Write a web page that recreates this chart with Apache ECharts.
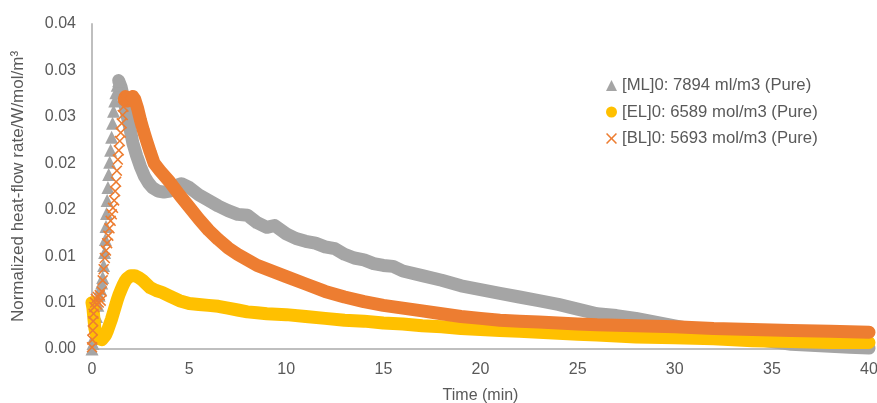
<!DOCTYPE html>
<html>
<head>
<meta charset="utf-8">
<script src="https://cdn.jsdelivr.net/npm/echarts@6/dist/echarts.min.js"></script>
<style>
html,body{margin:0;padding:0;background:#fff;}
#chart{width:877px;height:403px;}
</style>
</head>
<body>
<div id="chart"></div>
<script>
// ---------- data ----------
var seriesNames = ['[ML]0: 7894 ml/m3 (Pure)', '[EL]0: 6589 mol/m3 (Pure)', '[BL]0: 5693 mol/m3 (Pure)'];
var xTickLabels = ['0', '5', '10', '15', '20', '25', '30', '35', '40'];
var yTickLabels = ['0.00', '0.01', '0.01', '0.02', '0.02', '0.03', '0.03', '0.04'];

// ML (grey triangles) - rising part
var mlRiseTime  = [0, 0.05, 0.1, 0.17, 0.23, 0.3, 0.37, 0.43, 0.5, 0.55, 0.6, 0.65, 0.69, 0.72, 0.75, 0.78, 0.82, 0.86, 0.91, 0.96, 1.01, 1.06, 1.11, 1.17, 1.23, 1.3, 1.37];
var mlRiseValue = [0, 0.0006, 0.0013, 0.0024, 0.0035, 0.0047, 0.0058, 0.0065, 0.0071, 0.0077, 0.0090, 0.0104, 0.0118, 0.0132, 0.0146, 0.0160, 0.0174, 0.0188, 0.0201, 0.0214, 0.0228, 0.0243, 0.0256, 0.0267, 0.0276, 0.0284, 0.0289];
// ML - decaying part
var mlDecayTime  = [1.37, 1.5, 1.65, 1.8, 1.95, 2.1, 2.3, 2.5, 2.7, 2.9, 3.1, 3.4, 3.7, 4.0, 4.3, 4.6, 5.0, 5.5, 6.0, 6.5, 7.0, 7.5, 8.0, 8.5, 9.0, 9.4, 10.0, 10.5, 11.0, 11.5, 12.0, 12.5, 13.0, 13.5, 14.0, 14.5, 15.0, 15.5, 16.0, 17.0, 18.0, 19.0, 20.0, 21.0, 22.0, 23.0, 24.0, 25.0, 26.0, 27.0, 28.0, 29.0, 30.0, 31.0, 32.0, 33.0, 34.0, 35.0, 36.0, 37.0, 38.0, 39.0, 40.0];
var mlDecayValue = [0.0289, 0.0282, 0.0268, 0.0252, 0.0238, 0.0222, 0.0208, 0.0196, 0.0186, 0.0179, 0.0174, 0.0170, 0.0169, 0.0170, 0.0176, 0.0178, 0.0174, 0.0166, 0.0160, 0.0154, 0.0149, 0.0145, 0.0144, 0.0136, 0.0131, 0.0133, 0.0124, 0.0119, 0.0116, 0.0114, 0.0110, 0.0108, 0.0102, 0.0098, 0.0096, 0.0092, 0.0090, 0.0089, 0.0084, 0.0079, 0.0074, 0.0068, 0.0064, 0.0060, 0.0056, 0.0052, 0.0048, 0.0043, 0.0038, 0.0036, 0.0033, 0.0029, 0.0025, 0.0021, 0.0017, 0.0014, 0.0011, 0.0008, 0.0005, 0.0004, 0.0003, 0.0002, 0.0001];

// EL (yellow circles)
var elTime  = [0, 0.05, 0.1, 0.15, 0.22, 0.3, 0.4, 0.5, 0.6, 0.7, 0.8, 0.9, 1.0, 1.1, 1.2, 1.3, 1.4, 1.5, 1.6, 1.7, 1.8, 1.9, 2.0, 2.1, 2.2, 2.4, 2.6, 2.8, 3.0, 3.3, 3.6, 4.0, 4.5, 5.0, 5.5, 6.0, 6.5, 7.0, 7.5, 8.0, 8.5, 9.0, 10.0, 11.0, 12.0, 13.0, 14.0, 15.0, 16.0, 17.0, 18.0, 19.0, 20.0, 21.0, 22.0, 23.0, 24.0, 25.0, 26.0, 27.0, 28.0, 30.0, 32.0, 34.0, 36.0, 38.0, 40.0];
var elValue = [0.0050, 0.0044, 0.0032, 0.0022, 0.0016, 0.0012, 0.0010, 0.0010, 0.0012, 0.0015, 0.0020, 0.0026, 0.0032, 0.0039, 0.0046, 0.0053, 0.0059, 0.0064, 0.0069, 0.0073, 0.0076, 0.0078, 0.0079, 0.0080, 0.0079, 0.0077, 0.0074, 0.0070, 0.0066, 0.0063, 0.0061, 0.0057, 0.0052, 0.0049, 0.0048, 0.0047, 0.0046, 0.0044, 0.0042, 0.0040, 0.0039, 0.0038, 0.0037, 0.0035, 0.0033, 0.0031, 0.0030, 0.0028, 0.0027, 0.0025, 0.0024, 0.0022, 0.0021, 0.0020, 0.0019, 0.0018, 0.0017, 0.0016, 0.0015, 0.0014, 0.0013, 0.0012, 0.0011, 0.0009, 0.0008, 0.0007, 0.0007];

// BL (orange crosses) - rising part
var blRiseTime  = [0, 0.02, 0.04, 0.06, 0.08, 0.12, 0.16, 0.2, 0.25, 0.3, 0.35, 0.4, 0.45, 0.5, 0.55, 0.6, 0.66, 0.72, 0.78, 0.84, 0.9, 0.96, 1.02, 1.08, 1.14, 1.19, 1.24, 1.28, 1.33, 1.38, 1.43, 1.48, 1.53, 1.58, 1.62, 1.66];
var blRiseValue = [0.0002, 0.0010, 0.0020, 0.0030, 0.0038, 0.0045, 0.0050, 0.0054, 0.0048, 0.0056, 0.0050, 0.0058, 0.0052, 0.0062, 0.0074, 0.0086, 0.0098, 0.0106, 0.0114, 0.0122, 0.0130, 0.0138, 0.0145, 0.0152, 0.0160, 0.0170, 0.0180, 0.0192, 0.0204, 0.0214, 0.0224, 0.0233, 0.0243, 0.0252, 0.0261, 0.0269];
// BL - decaying part
var blDecayTime  = [1.66, 1.72, 1.8, 1.9, 2.0, 2.1, 2.2, 2.35, 2.5, 2.65, 2.8, 3.0, 3.2, 3.5, 4.0, 4.5, 5.0, 5.5, 6.0, 6.5, 7.0, 7.5, 8.0, 8.5, 9.0, 9.5, 10.0, 11.0, 12.0, 13.0, 14.0, 15.0, 16.0, 17.0, 18.0, 19.0, 20.0, 21.0, 22.0, 23.0, 24.0, 25.0, 26.0, 28.0, 30.0, 32.0, 34.0, 36.0, 38.0, 40.0];
var blDecayValue = [0.0269, 0.0272, 0.0267, 0.0265, 0.0269, 0.0272, 0.0269, 0.0259, 0.0246, 0.0235, 0.0225, 0.0212, 0.0200, 0.0192, 0.0180, 0.0166, 0.0153, 0.0140, 0.0128, 0.0118, 0.0109, 0.0102, 0.0096, 0.0090, 0.0086, 0.0082, 0.0078, 0.0070, 0.0062, 0.0056, 0.0051, 0.0047, 0.0044, 0.0041, 0.0038, 0.0035, 0.0033, 0.0031, 0.0030, 0.0029, 0.0028, 0.0027, 0.0026, 0.0025, 0.0024, 0.0022, 0.0021, 0.0020, 0.0019, 0.0018];

// ---------- helpers ----------
function pairs(t, v) { return t.map(function (x, i) { return [x, v[i]]; }); }

var C_ML = '#A5A5A5', C_EL = '#FFC000', C_BL = '#ED7D31';
var FONT = '"Liberation Sans", Arial, sans-serif';
var TXT = '#595959';
var CROSS = 'path://M1,0 L5,4 L9,0 L10,1 L6,5 L10,9 L9,10 L5,6 L1,10 L0,9 L4,5 L0,1 Z';
var BAND = 13;

var chart = echarts.init(document.getElementById('chart'), null, { renderer: 'canvas' });
chart.setOption({
  animation: false,
  backgroundColor: '#ffffff',
  grid: { left: 92, right: 8, top: 24, bottom: 54, containLabel: false, outerBoundsMode: 'none' },
  legend: {
    orient: 'vertical',
    left: 601,
    top: 72,
    itemWidth: 11,
    itemHeight: 11,
    itemGap: 9.5,
    textStyle: { color: TXT, fontSize: 16.7, lineHeight: 17, fontFamily: FONT },
    data: [
      { name: seriesNames[0], icon: 'triangle' },
      { name: seriesNames[1], icon: 'circle' },
      { name: seriesNames[2], icon: CROSS }
    ]
  },
  xAxis: {
    type: 'value',
    min: 0, max: 40, interval: 5,
    name: 'Time (min)',
    nameLocation: 'middle',
    nameGap: 39,
    nameTextStyle: { color: TXT, fontSize: 16, fontFamily: FONT },
    axisLine: { show: true, onZero: false, lineStyle: { color: '#BFBFBF', width: 2 } },
    axisTick: { show: false },
    splitLine: { show: false },
    axisLabel: {
      color: TXT, fontSize: 16, fontFamily: FONT, margin: 13,
      formatter: function (v, i) { return xTickLabels[i]; }
    }
  },
  yAxis: {
    type: 'value',
    min: 0, max: 0.035, interval: 0.005,
    name: 'Normalized heat-flow rate/W/mol/m³',
    nameLocation: 'middle',
    nameGap: 65,
    nameTextStyle: { color: TXT, fontSize: 17, fontFamily: FONT },
    axisLine: { show: true, lineStyle: { color: '#BFBFBF', width: 2 } },
    axisTick: { show: false },
    splitLine: { show: false },
    axisLabel: {
      color: TXT, fontSize: 16, fontFamily: FONT, margin: 16,
      formatter: function (v, i) { return yTickLabels[i]; }
    }
  },
  series: [
    {
      name: seriesNames[0], type: 'line', data: pairs(mlDecayTime, mlDecayValue),
      symbol: 'none', color: C_ML,
      lineStyle: { color: C_ML, width: BAND, cap: 'round', join: 'round' }, z: 2
    },
    {
      name: seriesNames[0], type: 'scatter', data: pairs(mlRiseTime, mlRiseValue),
      symbol: 'triangle', symbolSize: 13, color: C_ML,
      itemStyle: { color: C_ML, opacity: 1 }, z: 2
    },
    {
      name: seriesNames[1], type: 'line', data: pairs(elTime, elValue),
      symbol: 'none', color: C_EL,
      lineStyle: { color: C_EL, width: BAND, cap: 'round', join: 'round' }, z: 3
    },
    {
      name: seriesNames[2], type: 'scatter', data: pairs(blRiseTime, blRiseValue),
      symbol: CROSS, symbolSize: 11, color: C_BL,
      itemStyle: { color: C_BL, opacity: 1 }, z: 4
    },
    {
      name: seriesNames[2], type: 'line', data: pairs(blDecayTime, blDecayValue),
      symbol: 'none', color: C_BL,
      lineStyle: { color: C_BL, width: BAND, cap: 'round', join: 'round' }, z: 4
    }
  ]
});
</script>
</body>
</html>
